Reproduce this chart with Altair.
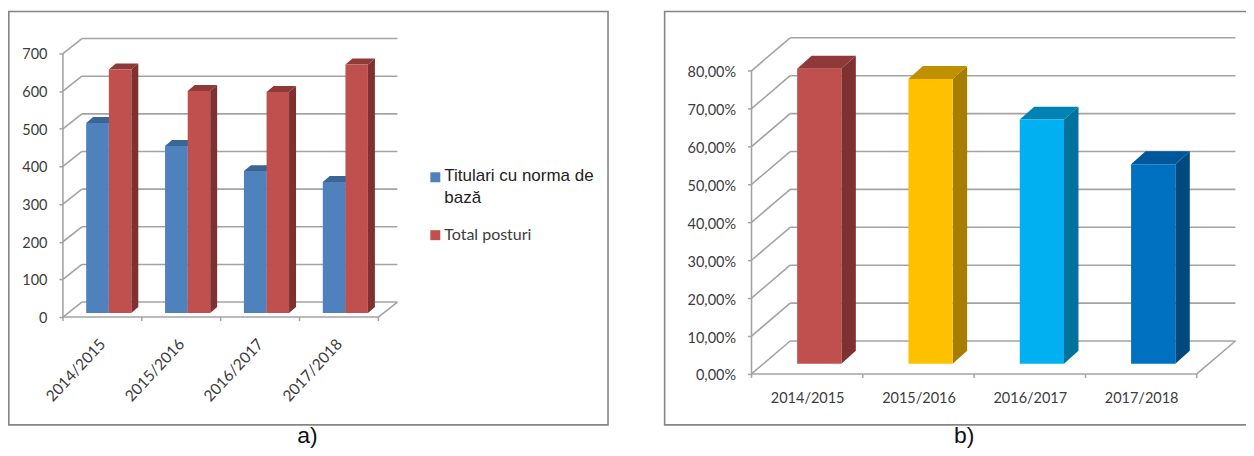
import json
import altair as alt
import pandas as pd

categories = ["2014/2015", "2015/2016", "2016/2017", "2017/2018"]
titulari = [505, 444, 377, 348]
total_posturi = [647, 590, 587, 660]
rate = [77.8, 75.1, 64.4, 52.6]
ticks_a = [0, 100, 200, 300, 400, 500, 600, 700]
ticks_b = [0, 10, 20, 30, 40, 50, 60, 70, 80]
legend_a = ["Titulari cu norma de bază", "Total posturi"]

GRID = "#A3A3A3"
FRAME = "#858585"
TEXT = "#3C3C3C"
FONT = "Lato"


def panel(series, ticks, cfg, label_expr, label_angle):
    cat_px, w, h, ppu = cfg["cat_px"], cfg["w"], cfg["h"], cfg["ppu"]
    dx_w, dy_w = cfg["wall_dx"], cfg["wall_dy"]
    xs = alt.Scale(domain=[0, w / cat_px], nice=False, zero=False)
    ys = alt.Scale(domain=[0, h / ppu], nice=False, zero=False)
    px = lambda p: p / cat_px
    pu = lambda p: p / ppu
    n = len(categories)
    cat_ticks = list(range(n + 1))
    centers = [i + 0.5 for i in range(n)]

    X = alt.X("x:Q", scale=xs, title=None, axis=alt.Axis(
        values=centers, labelExpr=f"{json.dumps(categories)}[floor(datum.value)]",
        ticks=False, domain=False, grid=False, labelAngle=label_angle,
        labelPadding=cfg["label_pad"], labelFont=FONT, labelFontSize=cfg["xfs"], labelColor=TEXT,
        labelAlign=cfg["label_align"], labelBaseline=cfg["label_base"], labelOverlap=False))
    Y = alt.Y("y:Q", scale=ys, title=None, axis=alt.Axis(
        values=ticks, labelExpr=label_expr, grid=False, domain=False, tickColor=GRID, tickSize=4,
        tickWidth=1.5, labelFont=FONT, labelFontSize=cfg["yfs"], labelColor=TEXT,
        labelPadding=cfg["y_pad"], labelOffset=cfg["y_off"]))

    layers = []
    f = cfg["frame"]
    layers.append(alt.Chart(pd.DataFrame({"a": [0]})).mark_rect(
        fillOpacity=0, stroke=FRAME, strokeWidth=1.6).encode(
        x=alt.value(f[0]), x2=alt.value(f[1]), y=alt.value(f[2]), y2=alt.value(f[3])))
    grid = pd.DataFrame({"x": [px(dx_w)] * len(ticks), "x2": [w / cat_px] * len(ticks),
                         "y": [t + pu(dy_w) for t in ticks]})
    layers.append(alt.Chart(grid).mark_rule(color=GRID, strokeWidth=1.6).encode(
        x=X, x2="x2:Q", y=Y))
    diag = pd.DataFrame({"x": [0] * len(ticks), "x2": [px(dx_w)] * len(ticks),
                         "y": ticks, "y2": [t + pu(dy_w) for t in ticks]})
    layers.append(alt.Chart(diag).mark_rule(color=GRID, strokeWidth=1.6).encode(
        x=X, x2="x2:Q", y=Y, y2="y2:Q"))
    lines = pd.DataFrame({"x": [n, 0, 0], "x2": [w / cat_px, n, 0], "y": [0, 0, 0],
                          "y2": [pu(dy_w), 0, ticks[-1]]})
    layers.append(alt.Chart(lines).mark_rule(color=GRID, strokeWidth=1.6).encode(
        x=X, x2="x2:Q", y=Y, y2="y2:Q"))
    layers.append(alt.Chart(pd.DataFrame({"x": cat_ticks})).mark_rule(color=GRID, strokeWidth=1.5).encode(
        x=X, y=alt.value(h), y2=alt.value(h + 4)))
    base = pu(cfg["base_px"])
    ddx, ddy = px(cfg["depth_dx"]), pu(cfg["depth_dy"])
    for s in series:
        for i, v in enumerate(s["values"]):
            x0 = i + px(s["start"])
            x1 = x0 + px(s["width"])
            top = v + base
            top_color = s["top"][i] if isinstance(s["top"], list) else s["top"]
            side_color = s["side"][i] if isinstance(s["side"], list) else s["side"]
            front_color = s["front"][i] if isinstance(s["front"], list) else s["front"]
            side = pd.DataFrame({"x": [x1, x1 + ddx], "y": [top, top + ddy], "y2": [base, base + ddy]})
            layers.append(alt.Chart(side).mark_area(color=side_color, interpolate="linear").encode(
                x=X, y=Y, y2="y2:Q"))
            topf = pd.DataFrame({"x": [x0, x0 + ddx, x1, x1 + ddx],
                                 "y": [top, top + ddy, top + ddy, top + ddy],
                                 "y2": [top, top, top, top + ddy]})
            layers.append(alt.Chart(topf).mark_area(color=top_color, interpolate="linear").encode(
                x=X, y=Y, y2="y2:Q"))
            front = pd.DataFrame({"x": [x0], "x2": [x1], "y": [top], "y2": [base]})
            layers.append(alt.Chart(front).mark_rect(color=front_color).encode(
                x=X, x2="x2:Q", y=Y, y2="y2:Q"))
    return layers


cfg_a = dict(cat_px=79.0, w=335, h=279, ppu=37.71 / 100, wall_dx=19, wall_dy=15, base_px=4,
             depth_dx=7, depth_dy=6, label_pad=24, label_align="right", label_base="middle",
             xfs=15.5, yfs=14.5, y_pad=12, y_off=1.5, frame=(-54.2, 546, -27, 387))
cfg_b = dict(cat_px=111.5, w=484.7, h=336, ppu=3.796, wall_dx=38.7, wall_dy=33, base_px=10.3,
             depth_dx=14.5, depth_dy=13, label_pad=18, label_align="center", label_base="top",
             xfs=14.5, yfs=14.5, y_pad=12, y_off=2, frame=(-87, 510, -27, 387))

series_a = [
    dict(values=titulari, front="#4F81BD", top="#3A6595", side="#345A86", start=23.3, width=22.7),
    dict(values=total_posturi, front="#C0504D", top="#8F3A38", side="#7D3130", start=46, width=22.5),
]
series_b = [
    dict(values=rate,
         front=["#C0504D", "#FFC000", "#00B0F0", "#0070C0"],
         top=["#8F3A38", "#BF9000", "#0083B3", "#00579A"],
         side=["#7D3130", "#A67D00", "#00729C", "#004A7F"],
         start=45.7, width=44.3),
]

layers_a = panel(series_a, ticks_a, cfg_a, "datum.value", -47)
layers_b = panel(series_b, ticks_b, cfg_b,
                 "replace(format(datum.value, '.2f'), '.', ',') + '%'", 0)

for (yy, lab, col) in [(139, [legend_a[0]], "#4F81BD"), (197, [legend_a[1]], "#C0504D")]:
    layers_a.append(alt.Chart(pd.DataFrame({"l": lab})).mark_square(size=100, color=col, opacity=1).encode(
        x=alt.value(373), y=alt.value(yy)))
layers_a.append(alt.Chart(pd.DataFrame({"l": [legend_a[0]]})).mark_text(
    align="left", baseline="middle", font="Liberation Sans", fontSize=17, color="#222222", lineHeight=22,
    lineBreak="|").transform_calculate(t="'Titulari cu norma de|bază'").encode(
    x=alt.value(382), y=alt.value(138), text="t:N"))
layers_a.append(alt.Chart(pd.DataFrame({"l": [legend_a[1]]})).mark_text(
    align="left", baseline="middle", font=FONT, fontSize=16, color=TEXT).encode(
    x=alt.value(382), y=alt.value(197), text="l:N"))
layers_a.append(alt.Chart(pd.DataFrame({"l": ["a)"]})).mark_text(
    align="center", baseline="middle", font="Liberation Sans", fontSize=23, color="#111111").encode(
    x=alt.value(245), y=alt.value(398), text="l:N"))
layers_b.append(alt.Chart(pd.DataFrame({"l": ["b)"]})).mark_text(
    align="center", baseline="middle", font="Liberation Sans", fontSize=23, color="#111111").encode(
    x=alt.value(213), y=alt.value(398), text="l:N"))

chart_a = alt.layer(*layers_a).properties(width=cfg_a["w"], height=cfg_a["h"])
chart_b = alt.layer(*layers_b).properties(width=cfg_b["w"], height=cfg_b["h"])

chart = alt.hconcat(chart_a, chart_b, spacing=54.7).resolve_scale(x="independent", y="independent").properties(
    padding={"left": 0, "top": 2.2, "right": -16, "bottom": 0}, background="white"
).configure_view(stroke=None)

chart.save("out.html", embed_options={"renderer": "svg", "actions": False})
